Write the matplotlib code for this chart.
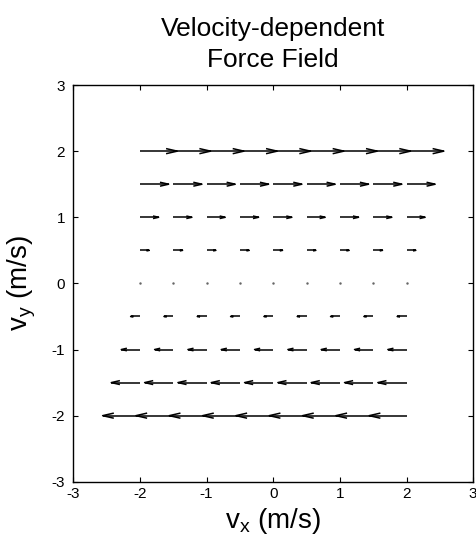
import numpy as np
import matplotlib.pyplot as plt
from matplotlib.collections import LineCollection

#Grid of velocities where the force is sampled
vx_grid = [-2.0, -1.5, -1.0, -0.5, 0.0, 0.5, 1.0, 1.5, 2.0]
vy_grid = [-2.0, -1.5, -1.0, -0.5, 0.0, 0.5, 1.0, 1.5, 2.0]

#Force components for each row of vy (same along vx)
fx_row = [-0.56, -0.43, -0.28, -0.14, 0.0, 0.14, 0.28, 0.43, 0.56]
fy_row = [0.0, 0.0, 0.0, 0.0, 0.0, 0.0, 0.0, 0.0, 0.0]

ticks = [-3, -2, -1, 0, 1, 2, 3]

plt.rcParams['font.family'] = ['Liberation Sans', 'DejaVu Sans']
plt.rcParams['axes.unicode_minus'] = False

fig = plt.figure(figsize=(4.76, 5.45), dpi=100)
ax = fig.add_axes([0.154, 0.116, 0.840, 0.728])

#MATLAB style quiver: shaft plus open arrowhead
alpha = 0.30
beta = 0.23
segs = []
zero_x, zero_y = [], []
for j, vy in enumerate(vy_grid):
    for vx in vx_grid:
        u = fx_row[j]
        v = fy_row[j]
        if u == 0 and v == 0:
            zero_x.append(vx)
            zero_y.append(vy)
            continue
        tx, ty = vx + u, vy + v
        segs.append([(vx, vy), (tx, ty)])
        bx, by = tx - alpha*u, ty - alpha*v
        px, py = -beta*alpha*v, beta*alpha*u
        segs.append([(bx + px, by + py), (tx, ty), (bx - px, by - py)])

ax.add_collection(LineCollection(segs, colors='k', linewidths=1.1))
ax.plot(zero_x, zero_y, linestyle='none', marker='.', markersize=1.5, color='0.4')

ax.set_xlim(-3, 3)
ax.set_ylim(-3, 3)
ax.set_xticks(ticks)
ax.set_yticks(ticks)
ax.tick_params(direction='in', length=3.8, top=True, right=True, labelsize=11)
ax.tick_params(axis='x', pad=4)
ax.tick_params(axis='y', pad=6)
for s in ax.spines.values():
    s.set_linewidth(1.0)

ax.set_xlabel('v$_\\mathregular{x}$ (m/s)', fontsize=20, labelpad=3)
ax.set_ylabel('v$_\\mathregular{y}$ (m/s)', fontsize=20, labelpad=10)
ax.set_title('Velocity-dependent\nForce Field', fontsize=19, pad=13, linespacing=1.35)

fig.savefig('out.png', dpi=100)
